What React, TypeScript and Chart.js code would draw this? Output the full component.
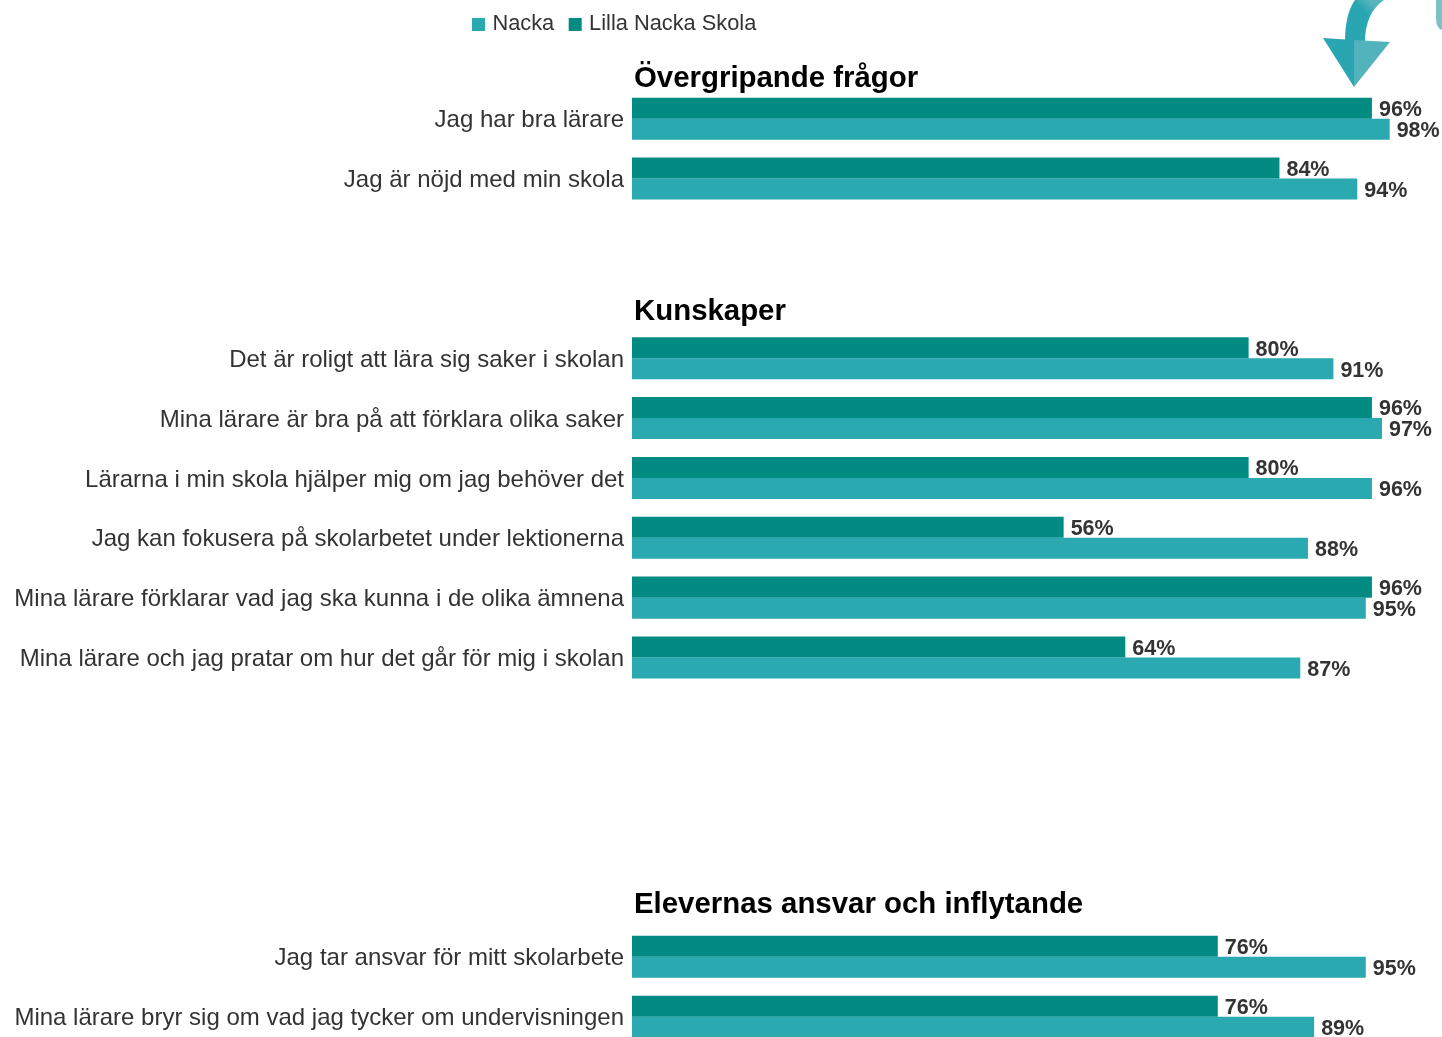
import React, { useEffect, useRef } from "react";
import { Chart, registerables } from "chart.js";

Chart.register(...registerables);

const categories = [
  "Jag har bra lärare",
  "Jag är nöjd med min skola",
  "",
  "",
  "Det är roligt att lära sig saker i skolan",
  "Mina lärare är bra på att förklara olika saker",
  "Lärarna i min skola hjälper mig om jag behöver det",
  "Jag kan fokusera på skolarbetet under lektionerna",
  "Mina lärare förklarar vad jag ska kunna i de olika ämnena",
  "Mina lärare och jag pratar om hur det går för mig i skolan",
  "",
  "",
  "",
  "",
  "Jag tar ansvar för mitt skolarbete",
  "Mina lärare bryr sig om vad jag tycker om undervisningen",
];
const nacka = [98.3, 94.1, null, null, 91, 97.3, 96, 87.7, 95.2, 86.7, null, null, null, null, 95.2, 88.5];
const lillaNacka = [96, 84, null, null, 80, 96, 80, 56, 96, 64, null, null, null, null, 76, 76];
const sectionTitles = ["Övergripande frågor", "Kunskaper", "Elevernas ansvar och inflytande"];
const sectionRows = [-0.67, 3.22, 13.13];

const FONT = '"Liberation Sans", Arial, sans-serif';
const DARK = "#018b83";
const LIGHT = "#2aa9b0";

const overlay = {
  id: "overlay",
  beforeDraw(chart: any) {
    chart.legend.left = 457.5;
    chart.legend.top = -4.5;
  },
  afterDatasetsDraw(chart: any) {
    const { ctx } = chart;
    const y = chart.scales.y;
    ctx.save();
    // Section headings
    ctx.fillStyle = "#000";
    ctx.font = `bold 29.4px ${FONT}`;
    ctx.textAlign = "left";
    ctx.textBaseline = "middle";
    sectionTitles.forEach((t, i) => ctx.fillText(t, chart.chartArea.left + 2, y.getPixelForValue(sectionRows[i])));
    // Value labels
    ctx.fillStyle = "#333";
    ctx.font = `bold 21.5px ${FONT}`;
    chart.data.datasets.forEach((ds: any, di: number) => {
      const meta = chart.getDatasetMeta(di);
      meta.data.forEach((bar: any, i: number) => {
        const v = ds.data[i];
        if (v == null) return;
        ctx.fillText(`${Math.round(v)}%`, bar.x + 7, bar.y + 2);
      });
    });
    // Decorative arrow: shaft
    const shaft = ctx.createLinearGradient(1345, 40, 1385, 0);
    shaft.addColorStop(0, "#2aa6b2");
    shaft.addColorStop(0.6, "#2aa6b2");
    shaft.addColorStop(0.8, "#58b5bf");
    shaft.addColorStop(1, "#58b5bf");
    ctx.fillStyle = shaft;
    ctx.beginPath();
    ctx.moveTo(1345, 42);
    ctx.bezierCurveTo(1345, 22, 1349, 8, 1355, 0);
    ctx.lineTo(1384, 0);
    ctx.bezierCurveTo(1372, 8, 1365, 22, 1365, 42);
    ctx.closePath();
    ctx.fill();
    // Decorative arrow: head halves
    ctx.fillStyle = "#2aa6b2";
    ctx.beginPath();
    ctx.moveTo(1323, 38);
    ctx.lineTo(1354, 40);
    ctx.lineTo(1354, 87);
    ctx.closePath();
    ctx.fill();
    ctx.fillStyle = "#52b3bd";
    ctx.beginPath();
    ctx.moveTo(1354, 40);
    ctx.lineTo(1390, 42);
    ctx.lineTo(1354, 87);
    ctx.closePath();
    ctx.fill();
    // Corner ornament
    ctx.fillStyle = "#7dc1c4";
    ctx.beginPath();
    ctx.moveTo(1442, 0);
    ctx.lineTo(1436, 0);
    ctx.lineTo(1436, 18);
    ctx.quadraticCurveTo(1436, 28, 1442, 30);
    ctx.closePath();
    ctx.fill();
    ctx.restore();
  },
};

export default function App() {
  const ref = useRef<HTMLCanvasElement>(null);
  useEffect(() => {
    const chart = new Chart(ref.current!, {
      type: "bar",
      data: {
        labels: categories,
        datasets: [
          { label: "Nacka", data: nacka, backgroundColor: LIGHT, order: 2 },
          { label: "Lilla Nacka Skola", data: lillaNacka, backgroundColor: DARK, order: 1 },
        ] as any,
      },
      options: {
        indexAxis: "y",
        animation: false,
        responsive: false,
        layout: { padding: { top: 39, left: 0, right: 0, bottom: 0 } },
        datasets: { bar: { categoryPercentage: 0.702, barPercentage: 1 } },
        plugins: {
          tooltip: { enabled: false },
          legend: {
            position: "top",
            align: "start",
            labels: {
              usePointStyle: true,
              pointStyle: "rect",
              boxWidth: 6,
              boxHeight: 13,
              padding: 18,
              color: "#333",
              font: { family: FONT, size: 21.8 },
              sort: (a: any, b: any) => a.datasetIndex - b.datasetIndex,
            },
          },
        },
        scales: {
          x: { display: false, min: 0, max: 105.09 },
          y: {
            afterFit(scale: any) {
              scale.width = 632;
            },
            grid: { display: false },
            border: { display: false },
            ticks: {
              autoSkip: false,
              padding: 0,
              labelOffset: 2,
              color: "#333",
              font: { family: FONT, size: 24 },
            },
          },
        },
      } as any,
      plugins: [overlay],
    });
    return () => chart.destroy();
  }, []);
  return (
    <div style={{ position: "fixed", left: 0, top: 0, width: 1442, height: 1037, overflow: "hidden", background: "#fff" }}>
      <canvas ref={ref} width={1442} height={1061} style={{ display: "block" }} />
    </div>
  );
}
